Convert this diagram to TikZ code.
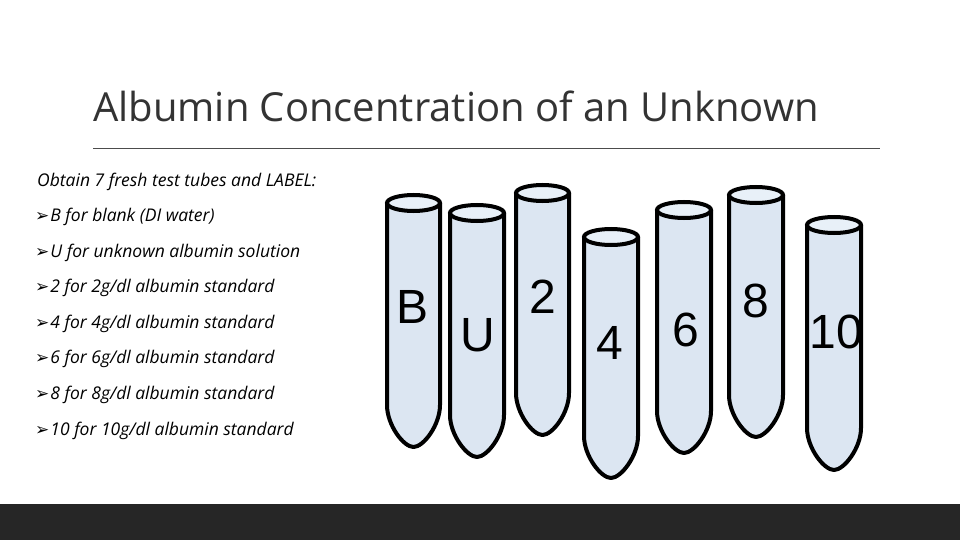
\documentclass[tikz,border=0pt]{standalone}
\usepackage{fontspec}
\setmainfont{Open Sans}
\newfontfamily\arial{Liberation Sans}
\newfontfamily\dvs{DejaVu Sans}
\begin{document}
\begin{tikzpicture}[x=1pt,y=-1pt,
  bul/.style={anchor=base west,font=\fontsize{17.5}{18}\selectfont\itshape,inner sep=0},
  lbl/.style={font=\arial\fontsize{48}{48}\selectfont,inner sep=0}]
\useasboundingbox (0,0) rectangle (960,540);
\fill[white] (0,0) rectangle (960,540);
\fill[black!85] (0,504) rectangle (960,540);
\node[anchor=base west,inner sep=0,font=\fontsize{40}{44}\selectfont,text=black!80] (title) at (93,122) {Albumin Concentration of an Unknown};
\draw[black!70,line width=0.8pt] (93,148) -- (880,148);
\node[bul] (t0) at (37,186) {Obtain 7 fresh test tubes and LABEL:};
\foreach \y/\t [count=\i] in {221/{B for blank (DI water)},257/{U for unknown albumin solution},292/{2 for 2g/dl albumin standard},328/{4 for 4g/dl albumin standard},363/{6 for 6g/dl albumin standard},399/{8 for 8g/dl albumin standard},435/{10 for 10g/dl albumin standard}}
  \node[bul] (b\i) at (35,\y) {{\upshape\dvs\fontsize{17}{18}\selectfont ➢}\kern1pt\t};
\foreach \l/\r/\tp/\bt/\lab/\lx/\ly in {387/440/203/447/B/413/307, 450/504/213/457/U/478/335, 516/569/193/435/2/543/297, 584/638/237/478/4/610/343, 657/711/210/453/6/686/330, 729/783/195/437/8/756/301, 807/861/225/470/10/836/332}{
  \pgfmathsetmacro\cx{(\l+\r)/2}
  \pgfmathsetmacro\rx{(\r-\l)/2}
  \draw[line width=4pt,fill={rgb,255:red,220;green,230;blue,242},line join=round]
    (\l,\tp) -- (\l,\bt-42) .. controls (\l,\bt-22) and (\cx-10,\bt) .. (\cx,\bt)
    .. controls (\cx+10,\bt) and (\r,\bt-22) .. (\r,\bt-42) -- (\r,\tp);
  \draw[line width=4pt,fill={rgb,255:red,232;green,240;blue,248}] (\cx,\tp) ellipse [x radius=\rx, y radius=8];
  \node[lbl] (l\lab) at (\lx,\ly) {\lab};
}
\end{tikzpicture}
\end{document}
